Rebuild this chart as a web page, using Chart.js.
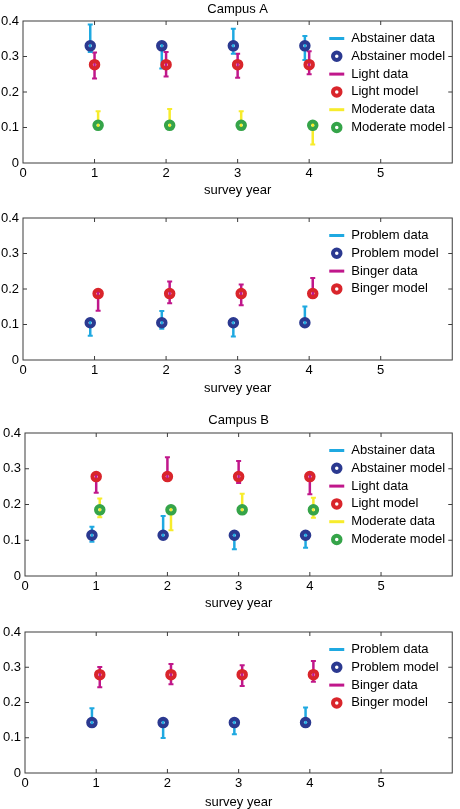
<!DOCTYPE html>
<html>
<head>
<meta charset="utf-8">
<script src="https://cdn.jsdelivr.net/npm/chart.js@4.4.1/dist/chart.umd.min.js"></script>
<style>
  html, body { margin: 0; padding: 0; background: #fff; overflow: hidden; }
  body { width: 460px; height: 809px; position: relative; }
  canvas { position: absolute; left: 0; }
</style>
</head>
<body>
<canvas id="panel1" width="460" height="200" style="top:0px"></canvas>
<canvas id="panel2" width="460" height="205" style="top:200px"></canvas>
<canvas id="panel3" width="460" height="210" style="top:405px"></canvas>
<canvas id="panel4" width="460" height="195" style="top:615px"></canvas>
<script>
const xTicks = [0, 1, 2, 3, 4, 5];
const yTicks = [0, 0.1, 0.2, 0.3, 0.4];

// x positions, each group is nudged a little around the survey year
const xLeft = [0.94, 1.94, 2.94, 3.94];
const xMid = [1, 2, 3, 4];
const xRight = [1.05, 2.05, 3.05, 4.05];

// Campus A, drinking levels
const abstModelA = [0.33, 0.33, 0.33, 0.33];
const abstLoA = [0.313, 0.266, 0.308, 0.29];
const abstHiA = [0.39, 0.335, 0.378, 0.358];
const lightModelA = [0.277, 0.277, 0.277, 0.277];
const lightLoA = [0.238, 0.244, 0.24, 0.25];
const lightHiA = [0.311, 0.313, 0.308, 0.315];
const modModelA = [0.106, 0.106, 0.106, 0.106];
const modLoA = [0.1, 0.1, 0.1, 0.052];
const modHiA = [0.146, 0.152, 0.146, 0.11];

// Campus A, problem / binge
const probModelA = [0.105, 0.105, 0.105, 0.105];
const probLoA = [0.068, 0.088, 0.066, 0.1];
const probHiA = [0.11, 0.138, 0.11, 0.151];
const bingModelA = [0.187, 0.187, 0.187, 0.187];
const bingLoA = [0.139, 0.16, 0.154, 0.182];
const bingHiA = [0.192, 0.221, 0.213, 0.231];

// Campus B, drinking levels
const abstModelB = [0.114, 0.114, 0.114, 0.114];
const abstLoB = [0.096, 0.11, 0.075, 0.079];
const abstHiB = [0.138, 0.168, 0.118, 0.118];
const lightModelB = [0.278, 0.278, 0.278, 0.278];
const lightLoB = [0.233, 0.273, 0.26, 0.229];
const lightHiB = [0.283, 0.332, 0.322, 0.283];
const modModelB = [0.185, 0.185, 0.185, 0.185];
const modLoB = [0.164, 0.128, 0.18, 0.163];
const modHiB = [0.217, 0.19, 0.23, 0.219];

// Campus B, problem / binge
const probModelB = [0.143, 0.143, 0.143, 0.143];
const probLoB = [0.138, 0.099, 0.11, 0.138];
const probHiB = [0.184, 0.148, 0.148, 0.186];
const bingModelB = [0.279, 0.279, 0.279, 0.279];
const bingLoB = [0.243, 0.252, 0.247, 0.259];
const bingHiB = [0.301, 0.309, 0.306, 0.318];

const cyan = '#1fa9e1';
const navy = '#2b3990';
const magenta = '#c0178b';
const red = '#d9252b';
const yellow = '#f7ec2c';
const green = '#35a449';
const frameColor = '#3c3c3c';
const fontFamily = '"Liberation Sans", Arial, Helvetica, sans-serif';

Chart.defaults.font.family = fontFamily;
Chart.defaults.font.size = 13;
Chart.defaults.color = '#000';

function dataSeries(label, color, xs, lo, hi) {
  const pts = [];
  xs.forEach((x, i) => {
    pts.push({x: x, y: lo[i]}, {x: x, y: hi[i]}, {x: x, y: null});
  });
  return {
    label: label, kind: 'data', data: pts, order: 2,
    showLine: true, spanGaps: false,
    borderColor: color, borderWidth: 2.5,
    pointStyle: 'line', pointRadius: 2.5, pointBorderWidth: 2,
    pointBorderColor: color, pointHoverRadius: 2.5
  };
}

function modelSeries(label, color, xs, ys) {
  return {
    label: label, kind: 'model', order: 1,
    data: xs.map((x, i) => ({x: x, y: ys[i]})),
    pointStyle: 'circle', pointRadius: 3.75, pointBorderWidth: 4,
    pointBorderColor: color, pointBackgroundColor: 'rgba(0,0,0,0)',
    pointHoverRadius: 3.75
  };
}

const framePlugin = {
  id: 'frame',
  beforeDatasetsDraw(chart) {
    const {ctx, chartArea: a, scales: {x, y}} = chart;
    ctx.save();
    ctx.strokeStyle = frameColor;
    ctx.lineWidth = 1;
    ctx.strokeRect(a.left, a.top, a.right - a.left, a.bottom - a.top);
    ctx.beginPath();
    xTicks.slice(1).forEach(v => {
      const px = x.getPixelForValue(v);
      ctx.moveTo(px, a.bottom); ctx.lineTo(px, a.bottom - 4);
      ctx.moveTo(px, a.top); ctx.lineTo(px, a.top + 4);
    });
    yTicks.slice(1, -1).forEach(v => {
      const py = y.getPixelForValue(v);
      ctx.moveTo(a.left, py); ctx.lineTo(a.left + 4, py);
      ctx.moveTo(a.right, py); ctx.lineTo(a.right - 4, py);
    });
    ctx.stroke();
    ctx.restore();
  }
};

const legendPlugin = {
  id: 'sideLegend',
  afterDraw(chart) {
    const {ctx, chartArea: a} = chart;
    ctx.save();
    ctx.font = '13px ' + fontFamily;
    ctx.textBaseline = 'middle';
    chart.data.datasets.forEach((ds, i) => {
      const yc = a.top + 17.5 + i * 17.8;
      if (ds.kind === 'data') {
        ctx.strokeStyle = ds.borderColor;
        ctx.lineWidth = 3;
        ctx.beginPath();
        ctx.moveTo(a.right - 123, yc);
        ctx.lineTo(a.right - 108, yc);
        ctx.stroke();
      } else {
        ctx.strokeStyle = ds.pointBorderColor;
        ctx.lineWidth = 4;
        ctx.beginPath();
        ctx.arc(a.right - 115.5, yc, 3.75, 0, Math.PI * 2);
        ctx.stroke();
      }
      ctx.fillStyle = '#000';
      ctx.fillText(ds.label, a.right - 101, yc);
    });
    ctx.restore();
  }
};

// p: chart area box and text placement for one panel
function makePanel(id, datasets, p) {
  const canvas = document.getElementById(id);
  const H = canvas.height;
  new Chart(canvas, {
    type: 'scatter',
    data: { datasets: datasets },
    options: {
      responsive: false,
      animation: false,
      devicePixelRatio: 1,
      events: [],
      layout: { padding: { left: 0, right: 460 - p.right, top: p.title ? 0 : p.top, bottom: 0 } },
      plugins: {
        legend: { display: false },
        tooltip: { enabled: false },
        title: {
          display: !!p.title,
          text: p.title || '',
          fullSize: false,
          font: { size: 13, weight: 'normal' },
          color: '#000',
          padding: { top: p.titleTop || 0, bottom: p.top - (p.titleTop || 0) - 15.6 }
        }
      },
      scales: {
        x: {
          type: 'linear', min: 0, max: 6, offset: false,
          afterBuildTicks: s => { s.ticks = xTicks.map(v => ({value: v})); },
          afterFit: s => { s.height = H - p.bottom; },
          grid: { display: false, drawTicks: false, offset: false },
          border: { display: false },
          ticks: { padding: 2.5, font: { size: 13 }, color: '#000' },
          title: {
            display: true, text: 'survey year', color: '#000',
            font: { size: 13 },
            padding: { top: 0, bottom: Math.max(H - p.xlabel - 7.8, 0) }
          }
        },
        y: {
          type: 'linear', min: 0, max: 0.4,
          afterBuildTicks: s => { s.ticks = yTicks.map(v => ({value: v})); },
          afterFit: s => { s.width = p.left; },
          grid: { display: false, drawTicks: false },
          border: { display: false },
          ticks: {
            padding: 4, font: { size: 13 }, color: '#000',
            callback: v => (v === 0 ? '0' : v.toFixed(1))
          }
        }
      }
    },
    plugins: [framePlugin, legendPlugin]
  });
}

makePanel('panel1', [
  dataSeries('Abstainer data', cyan, xLeft, abstLoA, abstHiA),
  modelSeries('Abstainer model', navy, xLeft, abstModelA),
  dataSeries('Light data', magenta, xMid, lightLoA, lightHiA),
  modelSeries('Light model', red, xMid, lightModelA),
  dataSeries('Moderate data', yellow, xRight, modLoA, modHiA),
  modelSeries('Moderate model', green, xRight, modModelA)
], { title: 'Campus A', titleTop: 1.2, left: 23, top: 21, right: 456, bottom: 163, xlabel: 190 });

makePanel('panel2', [
  dataSeries('Problem data', cyan, xLeft, probLoA, probHiA),
  modelSeries('Problem model', navy, xLeft, probModelA),
  dataSeries('Binger data', magenta, xRight, bingLoA, bingHiA),
  modelSeries('Binger model', red, xRight, bingModelA)
], { left: 23, top: 18, right: 456, bottom: 160, xlabel: 188 });

makePanel('panel3', [
  dataSeries('Abstainer data', cyan, xLeft, abstLoB, abstHiB),
  modelSeries('Abstainer model', navy, xLeft, abstModelB),
  dataSeries('Light data', magenta, xMid, lightLoB, lightHiB),
  modelSeries('Light model', red, xMid, lightModelB),
  dataSeries('Moderate data', yellow, xRight, modLoB, modHiB),
  modelSeries('Moderate model', green, xRight, modModelB)
], { title: 'Campus B', titleTop: 7.5, left: 25, top: 28, right: 459, bottom: 171, xlabel: 198 });

makePanel('panel4', [
  dataSeries('Problem data', cyan, xLeft, probLoB, probHiB),
  modelSeries('Problem model', navy, xLeft, probModelB),
  dataSeries('Binger data', magenta, xRight, bingLoB, bingHiB),
  modelSeries('Binger model', red, xRight, bingModelB)
], { left: 25, top: 17, right: 459, bottom: 158, xlabel: 187 });
</script>
</body>
</html>
